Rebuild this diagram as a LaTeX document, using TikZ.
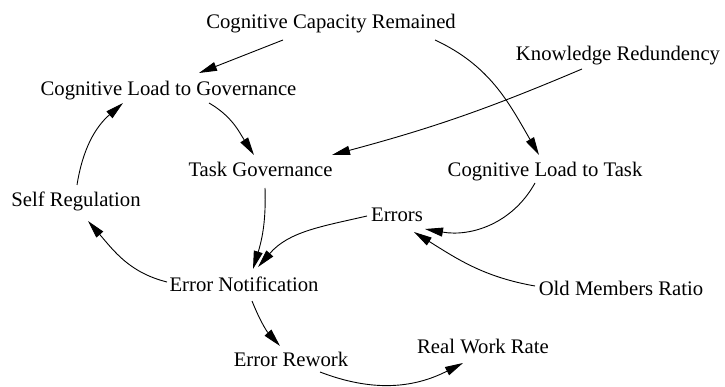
\documentclass[tikz,border=0pt]{standalone}
\usepackage{fontspec}
\setmainfont{Liberation Serif}
\usetikzlibrary{arrows.meta}
\begin{document}
\begin{tikzpicture}[x=1pt,y=1pt,
  var/.style={anchor=base, inner sep=0pt, font=\fontsize{20.7}{24}\selectfont},
  link/.style={line width=0.9pt, -{Triangle[length=18pt,width=9pt]}}]
\useasboundingbox (0,0) rectangle (725,-387);

% variables (placed on their baselines)
\node[var] (ccr) at (331,-29)   {Cognitive Capacity Remained};
\node[var] (kr)  at (618,-61)   {Knowledge Redundency};
\node[var] (clg) at (168.5,-96) {Cognitive Load to Governance};
\node[var] (tg)  at (260.5,-177){Task Governance};
\node[var] (clt) at (545,-177)  {Cognitive Load to Task};
\node[var] (sr)  at (76,-207)   {Self Regulation};
\node[var] (err) at (397,-222)  {Errors};
\node[var] (en)  at (244,-291)  {Error Notification};
\node[var] (omr) at (621,-295)  {Old Members Ratio};
\node[var] (er)  at (291,-366)  {Error Rework};
\node[var] (rwr) at (483,-353)  {Real Work Rate};

% causal links
\draw[link] ([shift={(-48,-11)}]ccr.base) -- ([shift={(30.5,23)}]clg.base);
\draw[link] ([shift={(104,-11)}]ccr.base) to[out=-25,in=120] ([shift={(-6,22)}]clt.base);
\draw[link] ([shift={(-36,-8)}]kr.base) to[out=203,in=15] ([shift={(71.5,22)}]tg.base);
\draw[link] ([shift={(40.5,-7)}]clg.base) to[out=-30,in=123] ([shift={(-6.5,22)}]tg.base);
\draw[link] ([shift={(1,22)}]sr.base) to[out=81,in=221] ([shift={(-45.5,-7)}]clg.base);
\draw[link] ([shift={(4.5,-11)}]tg.base) to[out=-88,in=73] ([shift={(9,22)}]en.base);
\draw[link] ([shift={(-30,6)}]err.base) to[out=193,in=49] ([shift={(14,24)}]en.base);
\draw[link] ([shift={(-77,9)}]en.base) to[out=166,in=311] ([shift={(12,-14)}]sr.base);
\draw[link] ([shift={(8,-10)}]en.base) to[out=-68,in=132] ([shift={(-11,20)}]er.base);
\draw[link] ([shift={(-10,-6)}]clt.base) to[out=241,in=-10] ([shift={(28,-7)}]err.base);
\draw[link] ([shift={(-86,9)}]omr.base) to[out=170,in=-32] ([shift={(17,-10)}]err.base);
\draw[link] ([shift={(29,-6)}]er.base) to[out=-21,in=207] ([shift={(-20,-10)}]rwr.base);
\end{tikzpicture}
\end{document}
